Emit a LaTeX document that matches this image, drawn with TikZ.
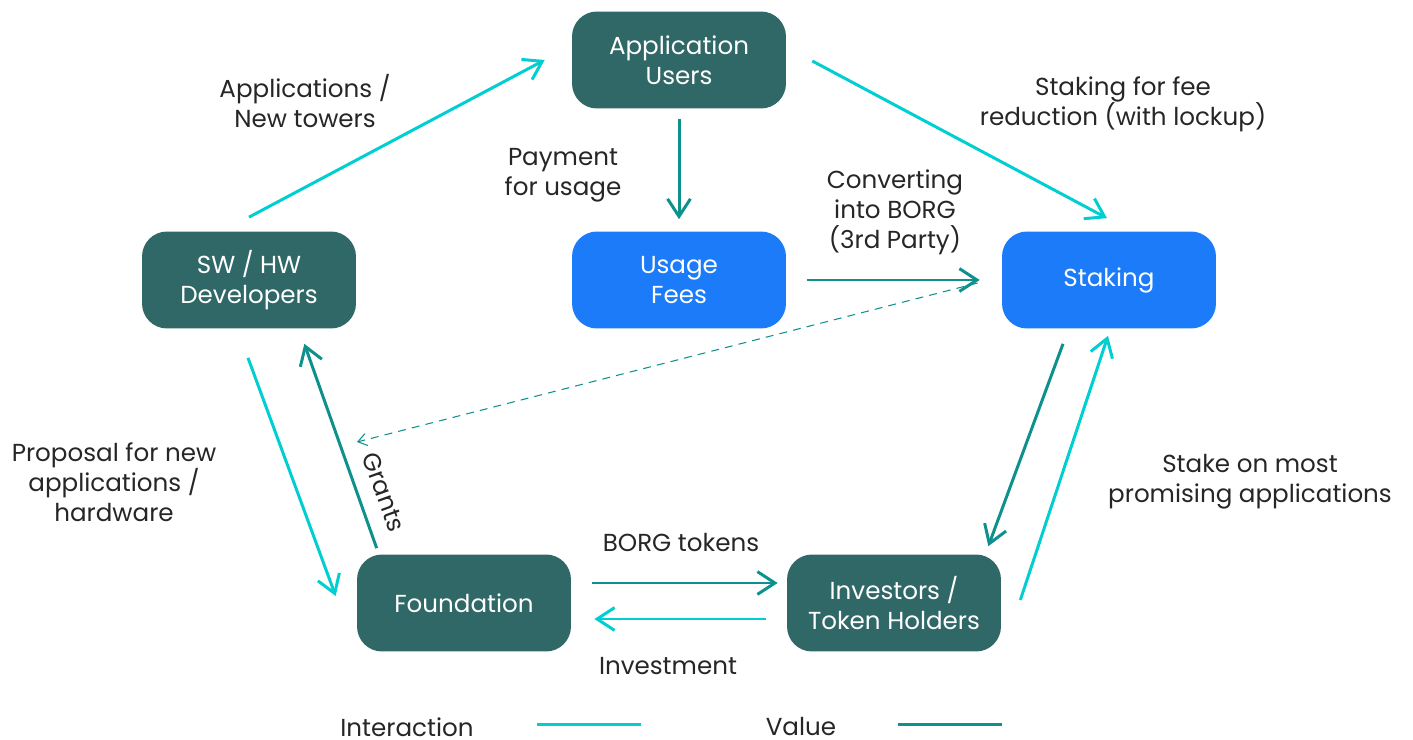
\documentclass[tikz,border=0pt]{standalone}
\usepackage{fontspec}
\setmainfont{Poppins}
\usetikzlibrary{arrows.meta,calc}
\definecolor{boxteal}{HTML}{2F6866}
\definecolor{boxblue}{HTML}{1B7BF9}
\definecolor{cyanline}{HTML}{00CED1}
\definecolor{tealline}{HTML}{0E918C}

\begin{document}
\begin{tikzpicture}[x=0.02cm,y=-0.02cm,
	box/.style={rectangle, rounded corners=0.5cm, fill=boxteal, text=white, minimum width=4.28cm, minimum height=1.94cm, align=center, font=\fontsize{14}{17}\selectfont},
	bluebox/.style={box, fill=boxblue},
	lbl/.style={align=center, text=black!85, font=\fontsize{14}{17}\selectfont},
	inter/.style={draw=cyanline, line width=1.7pt, -{Straight Barb[length=10pt,width=13pt]}},
	val/.style={draw=tealline, line width=1.7pt, -{Straight Barb[length=10pt,width=13pt]}},
	conv/.style={draw=tealline, line width=0.6pt, dash pattern=on 4.5pt off 3.5pt, -{Straight Barb[length=5pt,width=7pt]}}]
	\useasboundingbox (0,0) rectangle (1413,740);
	% boxes
	\node[box] (app) at (679,60) {Application\\Users};
	\node[box] (dev) at (249,280) {SW / HW\\Developers};
	\node[bluebox] (fees) at (679,280) {Usage\\Fees};
	\node[bluebox] (stake) at (1109,280) {Staking};
	\node[box] (found) at (464,603) {Foundation};
	\node[box] (inv) at (894,603) {Investors /\\Token Holders};
	\coordinate (fndin) at (357,442);
	% arrows
	\draw[inter] ($(dev.north)+(0,-14)$) -- ($(app.west)+(-27,0)$);
	\draw[inter] ($(app.east)+(26,1)$) -- ($(stake.north)+(-2,-13)$);
	\draw[val, shorten <=0.2cm, shorten >=0.24cm] (app.south) -- (fees.north);
	\draw[val, shorten <=0.42cm, shorten >=0.44cm] (fees.east) -- (stake.west);
	\draw[conv] ($(stake.west)+(-24,3)$) -- (fndin);
	\draw[inter] ($(dev.south)+(-1,29)$) -- ($(found.west)+(-21,-7)$);
	\draw[val] ($(found.north west)+(20,-6)$) -- ($(dev.south east)+(-52,15)$);
	\draw[val] ($(stake.south)+(-46,15)$) -- ($(inv.north east)+(-13,-8)$);
	\draw[inter] ($(inv.east)+(19,-3)$) -- ($(stake.south)+(-1,7)$);
	\draw[val] ($(found.east)+(21,-20)$) -- ($(inv.west)+(-9,-20)$);
	\draw[inter] ($(inv.west)+(-21,16)$) -- ($(found.east)+(23,16)$);
	% labels
	\node[lbl] (lapps) at (305,101) {Applications /\\New towers};
	\node[lbl] (lfee) at (1123,104) {Staking for fee\\reduction (with lockup)};
	\node[lbl] (lpay) at (563,175) {Payment\\for usage};
	\node[lbl] (lconv) at (895,212) {Converting\\into BORG\\(3rd Party)};
	\node[lbl] (lprop) at (114,482) {Proposal for new\\applications /\\hardware};
	\node[lbl, rotate=-70] (lgrant) at (384,492) {Grants};
	\node[lbl] (lstake) at (1250,482) {Stake on most\\promising applications};
	\node[lbl] (lborg) at (681,543) {BORG tokens};
	\node[lbl] (linv) at (668,666) {Investment};
	% legend
	\node[lbl] (keyint) at (407,727) {Interaction};
	\draw[cyanline, line width=1.7pt] (537,724) -- (641,724);
	\node[lbl] (keyval) at (801,727) {Value};
	\draw[tealline, line width=1.7pt] (898,724) -- (1002,724);
\end{tikzpicture}
\end{document}
